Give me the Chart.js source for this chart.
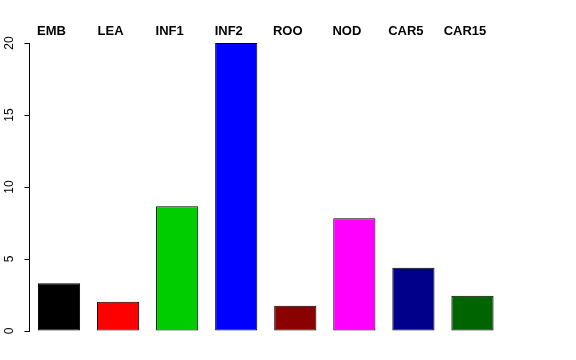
<!DOCTYPE html>
<html>
<head>
<meta charset="utf-8">
<script src="https://cdn.jsdelivr.net/npm/chart.js@4"></script>
<style>
  html, body { margin: 0; padding: 0; background: #fff; }
  #wrap { width: 576px; height: 360px; }
</style>
</head>
<body>
<div id="wrap"><canvas id="barChart" width="576" height="360"></canvas></div>
<script>
var categories = ['EMB', 'LEA', 'INF1', 'INF2', 'ROO', 'NOD', 'CAR5', 'CAR15'];
var values = [3.31, 2.03, 8.66, 20, 1.76, 7.83, 4.40, 2.45];
var barColors = ['#000000', '#ff0000', '#00cd00', '#0000ff', '#8b0000', '#ff00ff', '#00008b', '#006400'];
var yTicks = [0, 5, 10, 15, 20];

Chart.defaults.font.family = '"Liberation Sans", Arial, sans-serif';
Chart.defaults.color = '#000';

var ctx = document.getElementById('barChart').getContext('2d');
var barChart = new Chart(ctx, {
    type: 'bar',
    data: {
        labels: categories,
        datasets: [{
            data: values,
            backgroundColor: barColors,
            borderColor: '#000',
            borderWidth: 1,
            borderSkipped: false,
            barPercentage: 0.714,
            categoryPercentage: 1
        }]
    },
    options: {
        responsive: false,
        animation: false,
        layout: { padding: { left: 0, right: 74, top: 0, bottom: 29 } },
        plugins: { legend: { display: false }, tooltip: { enabled: false } },
        scales: {
            x: {
                display: false
            },
            xTop: {
                type: 'category',
                labels: categories,
                position: 'top',
                offset: true,
                grid: { display: false },
                border: { display: false },
                ticks: {
                    font: { size: 13, weight: 'bold' },
                    padding: -4,
                    labelOffset: -7.5,
                    maxRotation: 0,
                    autoSkip: false
                },
                afterFit: function(scale) { scale.height = 43; }
            },
            y: {
                min: 0,
                max: 20,
                afterBuildTicks: function(scale) {
                    scale.ticks = yTicks.map(function(v) { return { value: v }; });
                },
                grid: {
                    drawOnChartArea: false,
                    tickLength: 5,
                    tickColor: '#000'
                },
                border: { display: true, color: '#000', width: 1 },
                ticks: {
                    font: { size: 12 },
                    minRotation: 90,
                    maxRotation: 90,
                    crossAlign: 'center',
                    padding: 8
                },
                afterFit: function(scale) { scale.width = 29.5; }
            }
        }
    }
});
</script>
</body>
</html>
